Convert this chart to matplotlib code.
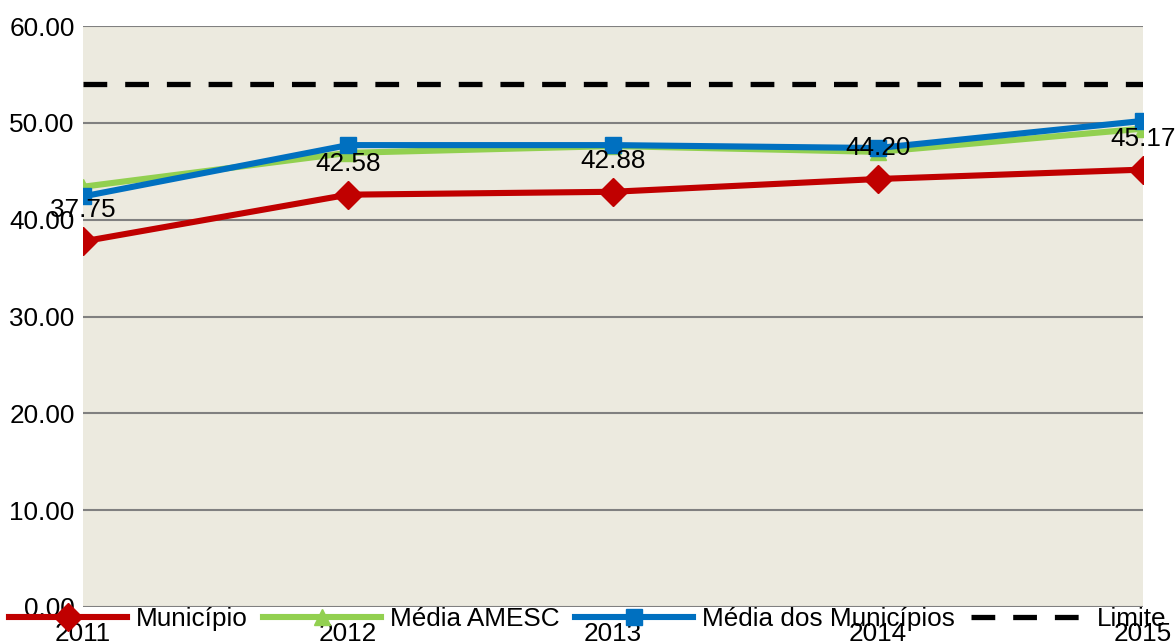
import matplotlib
matplotlib.use("Agg")
import matplotlib.pyplot as plt

plt.rcParams["font.family"] = ["Liberation Sans", "DejaVu Sans"]

# ─── data ────────────────────────────────────────────────────────────────
anos        = ["2011", "2012", "2013", "2014", "2015"]
municipio   = [37.75, 42.58, 42.88, 44.20, 45.17]
media_amesc = [43.4, 46.9, 47.6, 47.0, 49.4]
media_munic = [42.4, 47.7, 47.7, 47.4, 50.2]
limite      = [54.0, 54.0, 54.0, 54.0, 54.0]
yticks      = [0, 10, 20, 30, 40, 50, 60]

RED, GREEN, BLUE = "#C00000", "#92D050", "#0070C0"
BG = "#ECEADF"
FS = 18.8
LW = 4.4

fig = plt.figure(figsize=(11.76, 6.41), dpi=100)
ax = fig.add_axes([83 / 1176, 1 - 607 / 641, (1143 - 83) / 1176, (607 - 26) / 641])
ax.set_facecolor(BG)

x = list(range(len(anos)))

ax.plot(x, limite, color="black", lw=3.8, dashes=(4.5, 3.4), zorder=3, label="Limite")
ax.plot(x, municipio, color=RED, lw=LW, marker="D", ms=14, zorder=4, label="Município")
ax.plot(x, media_amesc, color=GREEN, lw=LW, marker="^", ms=12, zorder=5, label="Média AMESC")
ax.plot(x, media_munic, color=BLUE, lw=LW, marker="s", ms=11, zorder=6,
        label="Média dos Municípios")

for xi, v in zip(x, municipio):
    ax.annotate(f"{v:.2f}", (xi, v), xytext=(0, 31), textcoords="offset pixels",
                ha="center", va="center", fontsize=FS, zorder=10, annotation_clip=False)

ax.set_xlim(0, len(anos) - 1)
ax.set_ylim(0, 60)
ax.set_yticks(yticks)
ax.set_yticklabels([f"{t:.2f}" for t in yticks])
ax.set_xticks(x)
ax.set_xticklabels(anos)
ax.tick_params(axis="both", length=0, labelsize=FS)
ax.tick_params(axis="y", pad=6)
ax.tick_params(axis="x", pad=11)
ax.grid(axis="y", color="#808080", lw=1.5, zorder=1)
ax.set_axisbelow(True)
for s in ax.spines.values():
    s.set_visible(False)

h, l = ax.get_legend_handles_labels()
order = [1, 2, 3, 0]
fig.legend([h[i] for i in order], [l[i] for i in order], loc="center",
           bbox_to_anchor=(0.5, 1 - 619 / 641), ncol=4, frameon=False, fontsize=FS,
           handlelength=4.5, handletextpad=0.35, columnspacing=0.6, borderpad=0)

fig.savefig("out.png", dpi=100)
